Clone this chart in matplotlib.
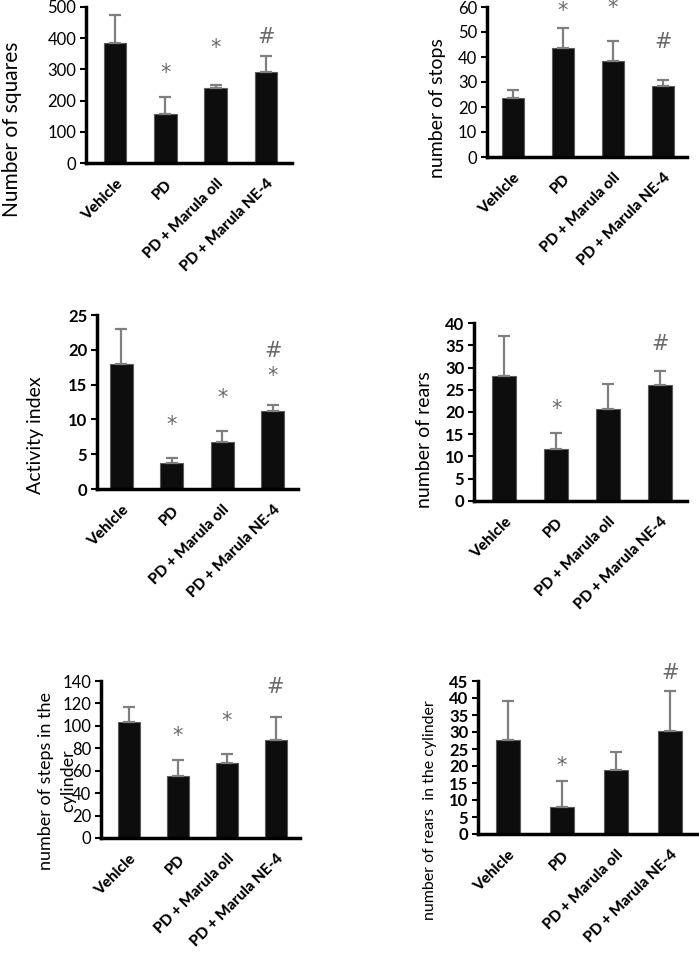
import matplotlib
matplotlib.use("Agg")
import numpy as np
from matplotlib import pyplot as plt

plt.rcParams['font.family'] = ['Lato', 'DejaVu Sans']

groups = ["Vehicle", "PD", "PD + Marula oil", "PD + Marula NE-4"]

# mean values and upper error (SD) for each test
squares = [385, 158, 240, 293]
squares_err = [90, 54, 10, 49]
stops = [23.5, 43.5, 38.5, 28.5]
stops_err = [3.5, 8, 8, 2.5]
activity = [18.0, 3.7, 6.7, 11.2]
activity_err = [5.0, 0.7, 1.7, 0.9]
rears = [28.2, 11.7, 20.6, 26.1]
rears_err = [8.8, 3.6, 5.8, 3.2]
steps_cyl = [103, 55, 67, 87]
steps_cyl_err = [14, 15, 8, 21]
rears_cyl = [27.7, 8.0, 18.8, 30.2]
rears_cyl_err = [11.3, 7.7, 5.2, 11.8]

# significance marks: (group index, y position, symbol)
squares_marks = [(1, 290, "*"), (2, 368, "*"), (3, 403, "#")]
stops_marks = [(1, 58.5, "*"), (2, 59.5, "*"), (3, 46, "#")]
activity_marks = [(1, 9.2, "*"), (2, 13.1, "*"), (3, 16.2, "*"), (3, 19.8, "#")]
rears_marks = [(1, 20.7, "*"), (3, 35.2, "#")]
steps_cyl_marks = [(1, 91, "*"), (2, 104, "*"), (3, 135, "#")]
rears_cyl_marks = [(1, 20, "*"), (3, 47.3, "#")]

W, H = 699, 956
fig = plt.figure(figsize=(W / 100, H / 100), dpi=100)


def panel(box, values, errs, marks, ymax, ystep, ylabel, label_xy, xlim,
          label_size=14, tick_bold=False):
    x0, y0, x1, y1 = box
    ax = fig.add_axes([x0 / W, 1 - y1 / H, (x1 - x0) / W, (y1 - y0) / H])
    x = np.arange(len(groups))
    ax.bar(x, values, width=0.45, color="#0d0d0d", edgecolor="#5a5a5a",
           linewidth=0.8, zorder=2)
    ax.errorbar(x, values, yerr=[np.zeros(len(errs)), errs], fmt="none",
                ecolor="#7f7f7f", elinewidth=1.6, capsize=4, capthick=1.6,
                zorder=3)
    for i, y, s in marks:
        ax.text(i, y, s, ha="center", va="center", fontsize=15,
                family="DejaVu Sans", color="#6a6a6a", clip_on=False)
    ax.set_ylim(0, ymax)
    ax.set_xlim(*xlim)
    ax.set_yticks(np.arange(0, ymax + ystep / 2, ystep))
    ax.set_xticks(x)
    ax.set_xticklabels(groups, rotation=45, ha="right",
                       rotation_mode="anchor", fontweight="black",
                       fontsize=11)
    ax.tick_params(axis="x", length=0, pad=10)
    ax.tick_params(axis="y", length=4, width=1.5, labelsize=12, pad=3)
    if tick_bold:
        for t in ax.get_yticklabels():
            t.set_fontweight("bold")
    for side in ["top", "right"]:
        ax.spines[side].set_visible(False)
    for side in ["left", "bottom"]:
        ax.spines[side].set_linewidth(2.5)
    ax.set_ylabel(ylabel, fontsize=label_size, va="center", ha="center",
                  linespacing=1.5)
    ax.yaxis.set_label_coords(label_xy[0] / W, 1 - label_xy[1] / H,
                              transform=fig.transFigure)
    return ax


panel((86, 7, 292, 163), squares, squares_err, squares_marks, 500, 100,
      "Number of squares", (12, 129), (-0.58, 3.52), label_size=15)
panel((487, 7, 687, 157), stops, stops_err, stops_marks, 60, 10,
      "number of stops", (438, 108), (-0.52, 3.48))
panel((97, 315, 298, 489), activity, activity_err, activity_marks, 25, 5,
      "Activity index", (35, 435), (-0.48, 3.5), tick_bold=True)
panel((474, 323, 687, 501), rears, rears_err, rears_marks, 40, 5,
      "number of rears", (425, 440), (-0.58, 3.52), tick_bold=True)
panel((101, 681, 300, 838), steps_cyl, steps_cyl_err, steps_cyl_marks, 140, 20,
      "number of steps in the\ncylinder", (57, 781), (-0.57, 3.5),
      label_size=13)
panel((478, 681, 697, 834), rears_cyl, rears_cyl_err, rears_cyl_marks, 45, 5,
      "number of rears  in the cylinder", (430, 810), (-0.55, 3.5),
      label_size=11.5, tick_bold=True)

fig.savefig("out.png", dpi=100)
